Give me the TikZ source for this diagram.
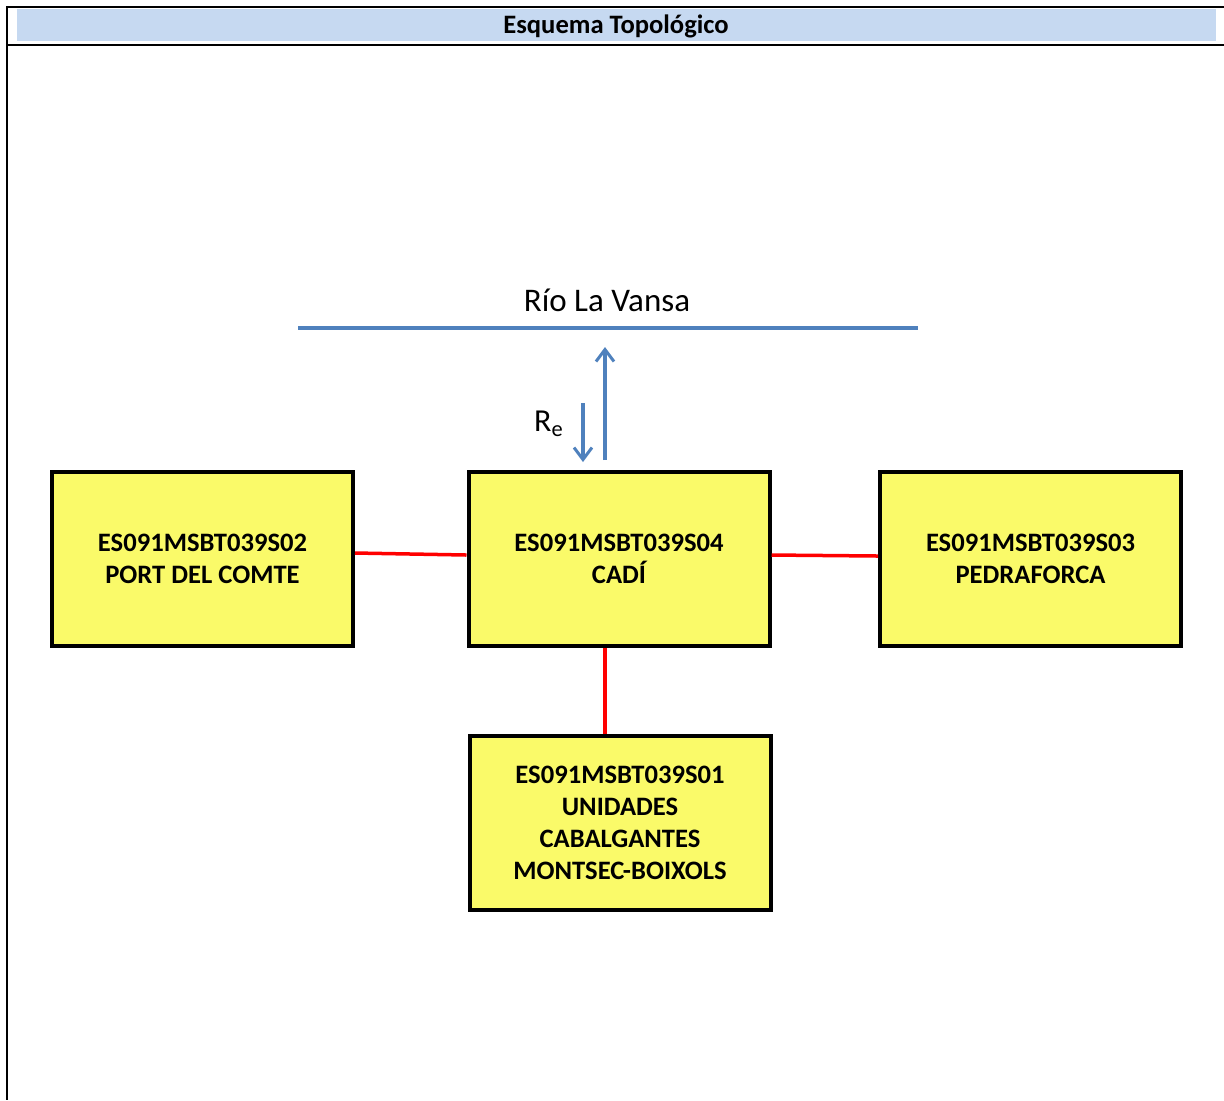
\documentclass[tikz,border=0pt]{standalone}
\usepackage{fontspec}
\setmainfont{Carlito}
\usetikzlibrary{arrows.meta,positioning}
\definecolor{cabecera}{RGB}{198,217,241}
\definecolor{masa}{RGB}{250,250,105}
\definecolor{rio}{RGB}{79,129,189}
\tikzset{
  masabox/.style={draw=black, line width=2pt, fill=masa, minimum width=150.5pt, minimum height=87pt,
    align=center, font=\fontsize{13.3}{16}\selectfont\bfseries, inner sep=2pt},
  conn/.style={draw=red, line width=1.75pt},
  flujo/.style={draw=rio, line width=1.6pt, -{Straight Barb[length=6pt,width=9pt,line width=1.5pt]}},
}

\begin{document}
\begin{tikzpicture}[x=0.5pt, y=-0.5pt]
			%%%%% START %%%%%
			\useasboundingbox (0, 0) rectangle (1224, 1100);
			
			% cabecera
			\fill[cabecera] (17, 9) rectangle (1216, 41);
			\node[font=\fontsize{13.3}{16}\selectfont\bfseries] (titulo) at (616, 26) {Esquema Topológico};
			\draw[line width=1.1pt] (1224, 7) -- (7, 7) -- (7, 1100);
			\draw[line width=1.3pt] (7, 45) -- (1224, 45);
			
			% rio
			\coordinate (rioW) at (298, 328);
			\coordinate (rioE) at (918, 328);
			\draw[rio, line width=1.75pt] (rioW) -- (rioE);
			\node[font=\fontsize{16.5}{20}\selectfont] (rioname) at (607, 300) {Río La Vansa};
			
			% masas
			\node[masabox] (cadi) at (619, 559) {ES091MSBT039S04\\CADÍ};
			\node[masabox] (port) at (202.5, 559) {ES091MSBT039S02\\PORT DEL COMTE};
			\node[masabox] (pedra) at (1030.5, 559) {ES091MSBT039S03\\PEDRAFORCA};
			\node[masabox] (unidades) at (620, 822.5) {ES091MSBT039S01\\UNIDADES\\CABALGANTES\\MONTSEC-BOIXOLS};
			
			% conexiones
			\draw[conn] ([yshift=3pt]port.east) -- ([yshift=2pt]cadi.west);
			\draw[conn] ([yshift=2pt]cadi.east) -- ([yshift=1.5pt]pedra.west);
			\draw[conn] ([xshift=-7pt]cadi.south) -- ([xshift=-7pt]cadi.south |- unidades.north);
			
			% recarga
			\coordinate (salida0) at (605, 460);
			\coordinate (salida1) at (605, 347);
			\coordinate (recarga0) at (583, 403);
			\coordinate (recarga1) at (583, 462);
			\draw[flujo] (salida0) -- (salida1);
			\draw[flujo] (recarga0) -- (recarga1);
			\node[font=\fontsize{16}{19}\selectfont] (re) at (549, 424) {R\textsubscript{e}};
			
			%%%%% END %%%%%
\end{tikzpicture}
\end{document}
